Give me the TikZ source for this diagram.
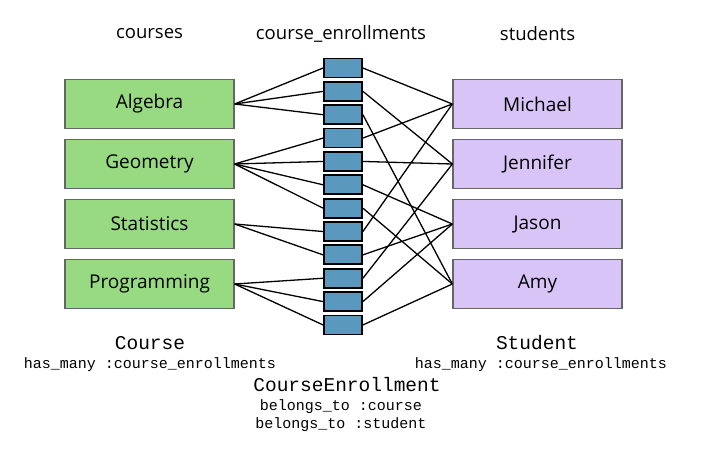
\documentclass[tikz,border=0pt]{standalone}
\usepackage{fontspec}
\setmainfont{Open Sans}
\setmonofont{Liberation Mono}
\usetikzlibrary{positioning}
\definecolor{coursegreen}{RGB}{152,218,130}
\definecolor{studentpurple}{RGB}{216,196,246}
\definecolor{enrollblue}{RGB}{90,152,190}
\definecolor{boxgray}{RGB}{100,104,100}

\begin{document}
\begin{tikzpicture}[x=1pt,y=-1pt]
\tikzstyle{every node}+=[inner sep=0pt]
\tikzstyle{course}=[draw=boxgray, line width=1.3pt, fill=coursegreen, minimum width=169pt, minimum height=49pt, font=\fontsize{19}{22}\selectfont]
\tikzstyle{student}=[course, fill=studentpurple]
\tikzstyle{enroll}=[draw=black, line width=1.8pt, fill=enrollblue, minimum width=38pt, minimum height=19pt]
\tikzstyle{header}=[font=\fontsize{18.5}{22}\selectfont]
\tikzstyle{model}=[font=\ttfamily\fontsize{19.5}{22}\selectfont]
\tikzstyle{assoc}=[font=\ttfamily\fontsize{15}{18}\selectfont]
\tikzstyle{link}=[draw=black, line width=1.3pt]
\useasboundingbox (0,0) rectangle (710,448);
% column titles
\node[header] (hc) at (149.5,34) {courses};
\node[header] (he) at (341,34) {course\_enrollments};
\node[header] (hs) at (537.5,34) {students};
% courses and students
\foreach \name/\i in {Algebra/0, Geometry/1, Statistics/2, Programming/3}
  \node[course] (c\i) at (149.5,104+60*\i) {\name};
\foreach \name/\i in {Michael/0, Jennifer/1, Jason/2, Amy/3}
  \node[student] (s\i) at (537.5,104+60*\i) {\name};
% join table rows
\foreach \i in {1,...,12}
  \node[enroll] (e\i) at (343,68+23.36*\i-23.36) {};
% enrollment/course/student
\foreach \e/\c/\s in {1/0/0, 2/0/1, 3/0/3, 4/1/0, 5/1/1, 6/1/2, 7/1/3,
                      8/2/0, 9/2/2, 10/3/1, 11/3/2, 12/3/3}
  \draw[link] (c\c.east) -- (e\e.west) (e\e.east) -- (s\s.west);
% models
\node[model] (mc) at (150,343) {Course};
\node[assoc] (ac) at (150,365) {has\_many :course\_enrollments};
\node[model] (ms) at (537,343) {Student};
\node[assoc] (as) at (541,365) {has\_many :course\_enrollments};
\node[model] (me) at (347,385) {CourseEnrollment};
\node[assoc] (a1) at (341,407) {belongs\_to :course};
\node[assoc] (a2) at (341,425) {belongs\_to :student};
\end{tikzpicture}
\end{document}
